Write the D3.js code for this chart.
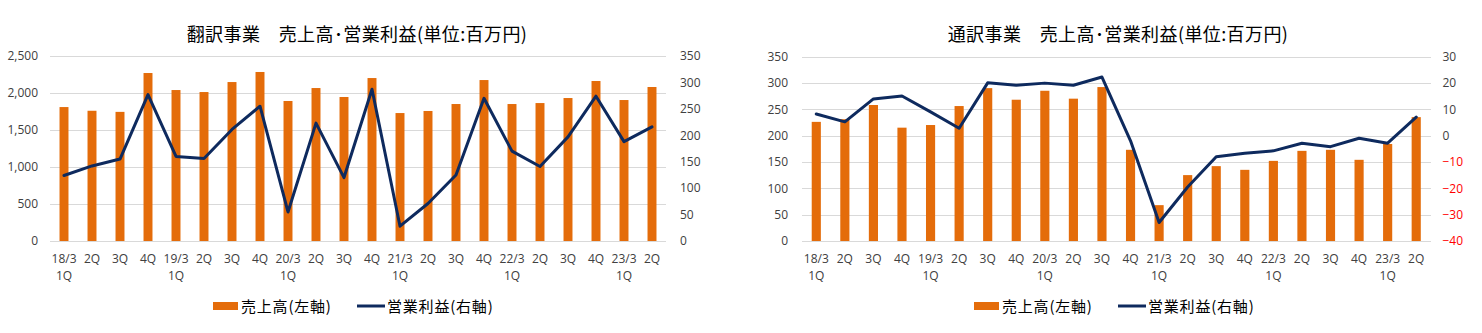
<!DOCTYPE html>
<html><head><meta charset="utf-8">
<script src="https://cdn.jsdelivr.net/npm/d3@7"></script>
<style>
body{margin:0;background:#fff;}
svg{display:block;}
</style></head>
<body>
<svg id="c" width="1482" height="333"></svg>
<script>
// ---- data ----
const quarterLabels = ["1Q","2Q","3Q","4Q","1Q","2Q","3Q","4Q","1Q","2Q","3Q","4Q","1Q","2Q","3Q","4Q","1Q","2Q","3Q","4Q","1Q","2Q"];
const yearLabels    = ["18/3","","","","19/3","","","","20/3","","","","21/3","","","","22/3","","","","23/3",""];

const transSales  = [1810,1760,1745,2270,2040,2013,2148,2284,1892,2067,1946,2202,1729,1757,1851,2175,1851,1864,1932,2162,1905,2081];
const transProfit = [124,142,155,277,160,156,211,255,55,223,120,287,28,71,125,270,170,141,197,274,188,216];

const interpSales  = [226,231,258,215,220,256,290,268,285,270,292,173,68,125,142,135,152,171,173,154,184,235];
const interpProfit = [8.2,5.2,13.9,15,9,2.8,20,19.1,19.9,19.1,22.2,-2,-33,-19.5,-8,-6.7,-5.8,-2.9,-4.2,-1,-2.9,7];

const transLeftTicks  = [0,500,1000,1500,2000,2500];
const transRightTicks = [0,50,100,150,200,250,300,350];
const interpLeftTicks  = [0,50,100,150,200,250,300,350];
const interpRightTicks = [-40,-30,-20,-10,0,10,20,30];

const titles = ["翻訳事業　売上高･営業利益(単位:百万円)","通訳事業　売上高･営業利益(単位:百万円)"];
const legendSales = "売上高(左軸)";
const legendProfit = "営業利益(右軸)";

// ---- styles ----
const BAR = "#E46C0A", LINE = "#0E2A5E", GRID = "#D9D9D9", TXT = "#404040";
const NUMFONT = "'Open Sans', sans-serif";
const JPFONT = "'Noto Sans CJK JP', sans-serif";

const svg = d3.select("#c");

function drawChart(cfg){
  const g = svg.append("g");
  const n = quarterLabels.length;
  const x = d3.scaleBand().domain(d3.range(n)).range([cfg.x0, cfg.x1]).paddingInner(0.68).paddingOuter(0.34);
  const yL = d3.scaleLinear().domain(cfg.leftDomain).range([cfg.yBottom, cfg.yTop]);
  const yR = d3.scaleLinear().domain(cfg.rightDomain).range([cfg.yBottom, cfg.yTop]);

  // gridlines
  const grid = g.append("g").attr("transform", `translate(${cfg.x0},0)`)
    .call(d3.axisLeft(yL).tickValues(cfg.leftTicks).tickSize(-(cfg.x1 - cfg.x0)).tickFormat(""));
  grid.select(".domain").remove();
  grid.selectAll("line").attr("stroke", GRID).attr("stroke-width", 1).attr("shape-rendering","crispEdges");

  // left axis
  const la = g.append("g").attr("transform", `translate(${cfg.x0},0)`)
    .call(d3.axisLeft(yL).tickValues(cfg.leftTicks).tickSize(0).tickPadding(cfg.leftPad).tickFormat(d3.format(",")));
  la.select(".domain").remove();
  la.selectAll("text").attr("fill", TXT).style("font-family", NUMFONT).style("font-size", "12px");

  // right axis
  const ra = g.append("g").attr("transform", `translate(${cfg.x1},0)`)
    .call(d3.axisRight(yR).tickValues(cfg.rightTicks).tickSize(0).tickPadding(cfg.rightPad).tickFormat(d3.format(",")));
  ra.select(".domain").remove();
  ra.selectAll("text").attr("fill", d => d < 0 ? "#FF0000" : TXT).style("font-family", NUMFONT).style("font-size", "12px");

  // bars
  g.append("g").selectAll("rect").data(cfg.sales).join("rect")
    .attr("x", (d,i) => x(i)).attr("width", x.bandwidth())
    .attr("y", d => yL(d)).attr("height", d => yL(0) - yL(d))
    .attr("fill", BAR);

  // line
  const line = d3.line().x((d,i) => x(i) + x.bandwidth()/2).y(d => yR(d));
  g.append("path").datum(cfg.profit).attr("d", line)
    .attr("fill","none").attr("stroke", LINE).attr("stroke-width", 3)
    .attr("stroke-linejoin","round").attr("stroke-linecap","round");

  // x axis labels
  const xa = g.append("g").attr("transform", `translate(0,${cfg.yBottom})`)
    .call(d3.axisBottom(x).tickSize(0).tickFormat(""));
  xa.select(".domain").remove();
  xa.selectAll(".tick").each(function(i){
    const t = d3.select(this);
    t.select("text").remove();
    const top = yearLabels[i] || quarterLabels[i];
    t.append("text").attr("y", 22).attr("text-anchor","middle").attr("fill", TXT)
      .style("font-family", NUMFONT).style("font-size","12px").text(top);
    if (yearLabels[i]) {
      t.append("text").attr("y", 39).attr("text-anchor","middle").attr("fill", TXT)
        .style("font-family", NUMFONT).style("font-size","12px").text(quarterLabels[i]);
    }
  });

  // title
  g.append("text").attr("x", cfg.titleX).attr("y", 41).attr("text-anchor","middle")
    .attr("fill", "#000").style("font-family", JPFONT).style("font-size","18px")
    .style("letter-spacing","0.4px").text(cfg.title);

  // legend
  const lg = g.append("g");
  lg.append("rect").attr("x", cfg.legX).attr("y", 302).attr("width", 25).attr("height", 8).attr("fill", BAR);
  lg.append("text").attr("x", cfg.legX + 28).attr("y", 311.5).attr("fill","#000")
    .style("font-family", JPFONT).style("font-size","15px").style("letter-spacing","0.8px").text(legendSales);
  lg.append("line").attr("x1", cfg.legX + 144).attr("x2", cfg.legX + 172).attr("y1", 306).attr("y2", 306)
    .attr("stroke", LINE).attr("stroke-width", 3);
  lg.append("text").attr("x", cfg.legX + 174).attr("y", 311.5).attr("fill","#000")
    .style("font-family", JPFONT).style("font-size","15px").style("letter-spacing","0.8px").text(legendProfit);
}

drawChart({
  x0: 50, x1: 666, yTop: 56, yBottom: 241,
  leftDomain: [0,2500], rightDomain: [0,350],
  leftTicks: transLeftTicks, rightTicks: transRightTicks,
  leftPad: 12, rightPad: 14,
  sales: transSales, profit: transProfit,
  title: titles[0], titleX: 357, legX: 213
});
drawChart({
  x0: 802, x1: 1430.5, yTop: 56.5, yBottom: 241,
  leftDomain: [0,350], rightDomain: [-40,30],
  leftTicks: interpLeftTicks, rightTicks: interpRightTicks,
  leftPad: 14, rightPad: 12,
  sales: interpSales, profit: interpProfit,
  title: titles[1], titleX: 1118, legX: 974
});
</script>
</body></html>
